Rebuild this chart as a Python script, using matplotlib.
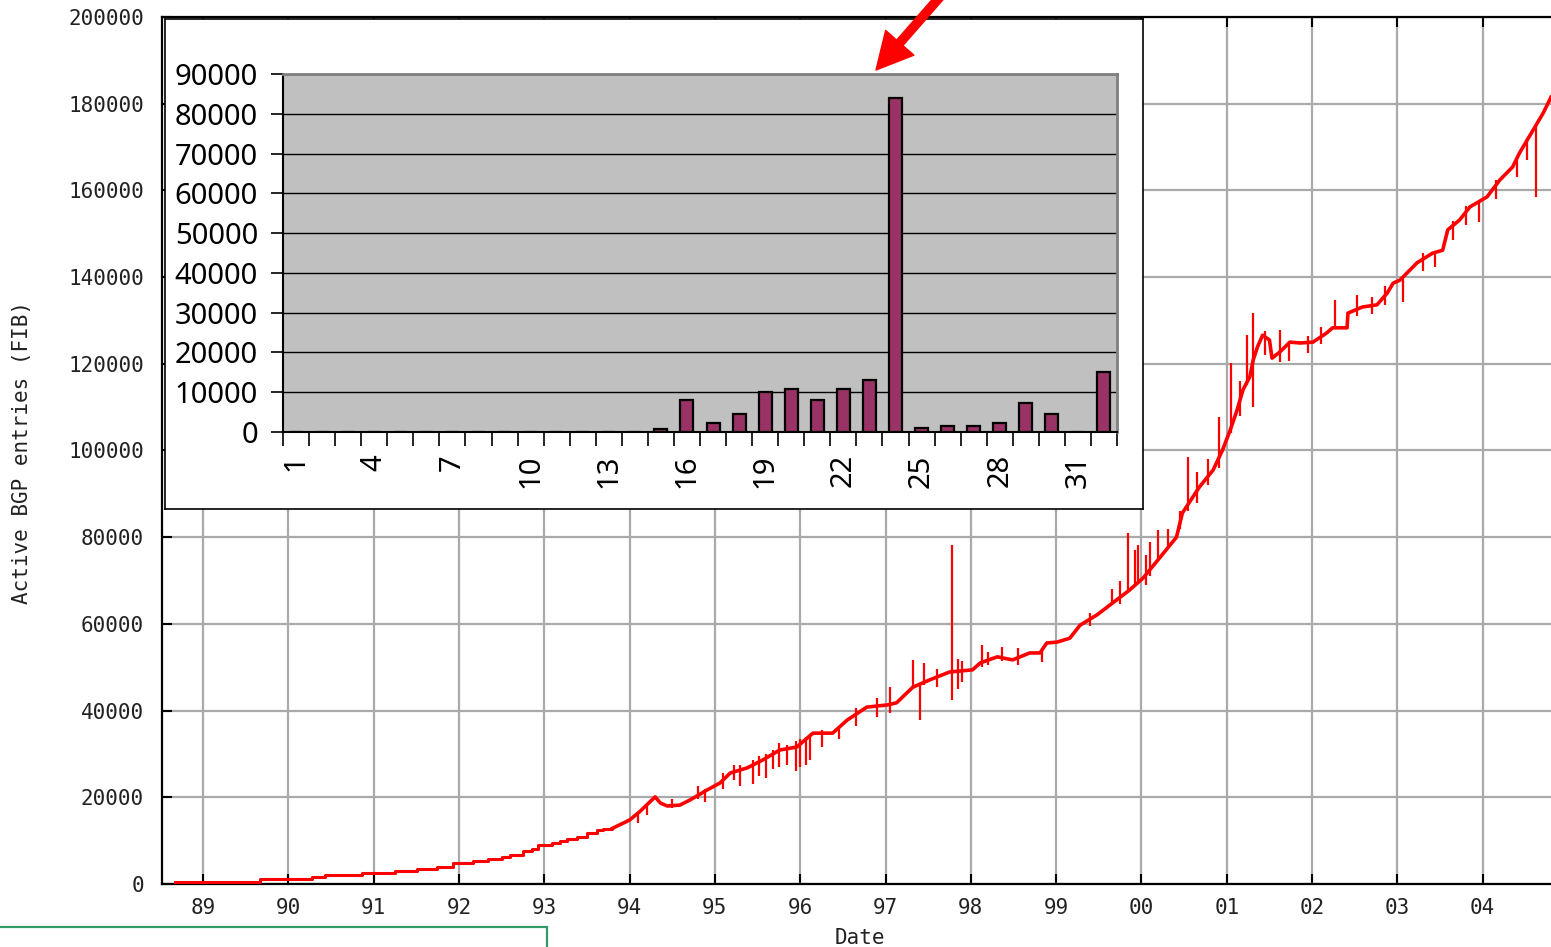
import numpy as np
import matplotlib
matplotlib.use('Agg')
import matplotlib.pyplot as plt
from matplotlib.patches import Rectangle


# ---------------------------------------------------------------------------
# Data
# ---------------------------------------------------------------------------

# Early part of the BGP table: step changes (start date, entries)
step_years = [1988.67, 1989.67, 1990.28, 1990.43, 1990.86, 1991.25, 1991.51,
              1991.74, 1991.93, 1992.16, 1992.34, 1992.50, 1992.60, 1992.75,
              1992.86, 1992.93, 1993.09, 1993.18, 1993.27, 1993.38, 1993.50,
              1993.62, 1993.69, 1993.80]
step_vals  = [500, 1150, 1500, 2000, 2450, 2900, 3400, 4000, 4750, 5200,
              5700, 6150, 6600, 7500, 8000, 8900, 9500, 9900, 10400, 10900,
              11700, 12500, 12800, 12850]

# Later part: sampled trace (date, entries)
bgp_years = [1993.80, 1994.00, 1994.12, 1994.30, 1994.36, 1994.44, 1994.59,
             1994.71, 1994.91, 1995.06, 1995.18, 1995.38, 1995.56, 1995.76,
             1995.96, 1996.15, 1996.38, 1996.55, 1996.78, 1997.02, 1997.13,
             1997.32, 1997.52, 1997.75, 1998.02, 1998.11, 1998.31, 1998.49,
             1998.69, 1998.81, 1998.89, 1999.01, 1999.16, 1999.28, 1999.48,
             1999.66, 1999.86, 2000.02, 2000.22, 2000.41, 2000.48, 2000.68,
             2000.84, 2000.95, 2001.04, 2001.12, 2001.19, 2001.27, 2001.31,
             2001.36, 2001.42, 2001.50, 2001.53, 2001.62, 2001.74, 2001.86,
             2002.01, 2002.17, 2002.24, 2002.41, 2002.42, 2002.59, 2002.76,
             2002.88, 2002.95, 2003.03, 2003.23, 2003.41, 2003.53, 2003.59,
             2003.73, 2003.85, 2004.05, 2004.20, 2004.35, 2004.43, 2004.59,
             2004.71, 2004.80]
bgp_vals  = [12850, 14750, 16700, 20100, 18700, 18000, 18200, 19400, 21700,
             23300, 25600, 26800, 28600, 30900, 31600, 34800, 34800, 37800,
             40800, 41300, 41800, 45400, 47100, 48900, 49400, 51000, 52400,
             51700, 53300, 53300, 55600, 55800, 56700, 59700, 62100, 64800,
             67800, 70600, 75400, 80000, 85600, 91600, 95500, 100100, 104700,
             109300, 114000, 117000, 120900, 123900, 126600, 125500, 121300,
             122700, 125000, 124800, 125000, 127100, 128300, 128300, 131700,
             133100, 133600, 136300, 138600, 139300, 143300, 145500, 146200,
             150900, 153200, 156200, 158500, 162400, 165400, 168600, 173900,
             177900, 181500]

# Short-lived spikes / noise in the trace (date, low, high)
spike_years = [1994.10, 1994.20, 1994.50, 1994.80, 1994.88, 1995.10, 1995.22,
               1995.30, 1995.45, 1995.52, 1995.60, 1995.68, 1995.75, 1995.85,
               1995.95, 1996.00, 1996.07, 1996.12, 1996.25, 1996.45, 1996.65,
               1996.90, 1997.05, 1997.32, 1997.40, 1997.45, 1997.60, 1997.78,
               1997.85, 1997.90, 1998.13, 1998.20, 1998.36, 1998.55, 1998.83,
               1999.40, 1999.65, 1999.75, 1999.84, 1999.92, 1999.96, 2000.05,
               2000.10, 2000.19, 2000.31, 2000.45, 2000.55, 2000.65, 2000.78,
               2000.91, 2001.05, 2001.15, 2001.24, 2001.31, 2001.45, 2001.62,
               2001.73, 2001.95, 2002.10, 2002.27, 2002.53, 2002.70, 2002.85,
               2003.07, 2003.30, 2003.44, 2003.65, 2003.80, 2003.96, 2004.15,
               2004.40, 2004.52, 2004.63]
spike_lo    = [14000, 16000, 17500, 19500, 19000, 22000, 24000, 22500, 23000,
               25000, 24500, 26500, 27000, 27500, 26000, 27000, 27500, 28500,
               31500, 33500, 36500, 38500, 39500, 45000, 37800, 46000, 45500,
               42400, 45000, 46500, 50000, 50500, 51500, 50500, 51200, 59500,
               64500, 64500, 67500, 69000, 69500, 69000, 71000, 74500, 78000,
               82000, 86000, 88000, 92000, 96000, 104000, 108000, 115000,
               110000, 122000, 120400, 120600, 122500, 124500, 128000, 131000,
               131500, 133500, 134300, 141500, 142300, 148500, 152000, 152700,
               158000, 163000, 167000, 158500]
spike_hi    = [16500, 18500, 19500, 22500, 22000, 25500, 27500, 27500, 28500,
               29500, 30000, 31000, 32500, 32000, 33000, 33500, 34000, 34500,
               35500, 36500, 40500, 43000, 45500, 51700, 46000, 51000, 49500,
               78200, 52000, 51500, 55100, 53500, 54600, 54500, 54000, 62500,
               68000, 70000, 81000, 77000, 78200, 76000, 79000, 81600, 82000,
               86000, 98500, 95000, 98000, 107700, 120200, 116000, 126600,
               131700, 127500, 127800, 125000, 126500, 128500, 134700, 135900,
               135500, 138000, 139500, 145500, 146000, 153000, 156500, 157000,
               162500, 168000, 172000, 175000]

year_ticks  = list(range(1989, 2005))
year_labels = ['89', '90', '91', '92', '93', '94', '95', '96', '97', '98',
               '99', '00', '01', '02', '03', '04']

# Inset: daily counts (day of month, prefixes)
days       = list(range(1, 33))
day_counts = [0, 0, 0, 0, 0, 0, 0, 0, 0, 0, 0, 0, 0, 0, 800, 8000, 2300,
              4600, 10100, 10900, 8000, 10900, 13000, 84000, 900, 1600, 1600,
              2300, 7300, 4600, 0, 15200]
day_labels = [1, 4, 7, 10, 13, 16, 19, 22, 25, 28, 31]


# ---------------------------------------------------------------------------
# Figure and main axes
# ---------------------------------------------------------------------------

W, H = 1551, 947
fig = plt.figure(figsize=(W / 100, H / 100), dpi=100)

ax = fig.add_axes([162 / W, (H - 884) / H, (W - 162) / W, (884 - 17) / H])
ax.set_xlim(1988.52, 2004.80)
ax.set_ylim(0, 200000)

ax.step(step_years, step_vals, where='post', color='red', lw=2.2, zorder=3)
ax.plot(bgp_years, bgp_vals, color='red', lw=2.6, zorder=3)
ax.vlines(spike_years, spike_lo, spike_hi, color='red', lw=1.6, zorder=3)

mono = 'DejaVu Sans Mono'
tick_font = dict(fontfamily=mono, fontsize=15, color='#222222')
ax.set_xticks(year_ticks)
ax.set_xticklabels(year_labels, **tick_font)
ax.set_yticks(range(0, 200001, 20000))
ax.set_yticklabels([str(v) for v in range(0, 200001, 20000)], **tick_font)
ax.tick_params(direction='in', length=7, width=1.5, top=True, bottom=True,
               left=True, right=False, color='black')
ax.tick_params(axis='y', pad=13)
ax.tick_params(axis='x', pad=10)

ax.grid(True, color='#aaaaaa', lw=1.6)
ax.set_axisbelow(True)
for side in ['left', 'bottom', 'top']:
    ax.spines[side].set_linewidth(1.6)
ax.spines['right'].set_visible(False)

fig.text(22 / W, 1 - 452 / H, 'Active BGP entries (FIB)', rotation=90,
         ha='center', va='center', **tick_font)
fig.text(860 / W, 1 - 938 / H, 'Date', ha='center', va='center', **tick_font)


# ---------------------------------------------------------------------------
# Inset bar chart (white box + grey plot area)
# ---------------------------------------------------------------------------

box = fig.add_axes([165 / W, (H - 509) / H, (1143 - 165) / W, (509 - 19) / H])
box.set_facecolor('white')
box.set_xticks([])
box.set_yticks([])
for s in box.spines.values():
    s.set_linewidth(1.2)
    s.set_color('black')

ins = fig.add_axes([283 / W, (H - 432) / H, (1117 - 283) / W, (432 - 74) / H])
ins.set_facecolor('#c0c0c0')
ins.bar(days, day_counts, width=0.5, color='#993366', edgecolor='black',
        lw=1.6, zorder=3)
ins.set_xlim(0.5, 32.5)
ins.set_ylim(0, 90000)
ins.set_yticks(range(0, 90001, 10000))
ins.set_yticklabels([str(v) for v in range(0, 90001, 10000)],
                    fontfamily='Noto Sans', fontsize=21)
ins.set_xticks(day_labels)
ins.set_xticklabels([str(d) for d in day_labels], rotation=90,
                    fontfamily='Noto Sans', fontsize=21, va='top')
ins.set_xticks(np.arange(0.5, 33, 1), minor=True)
ins.tick_params(axis='x', which='major', length=0, pad=16)
ins.tick_params(axis='x', which='minor', length=10, width=1.2, direction='out')
ins.tick_params(axis='y', length=9, width=1.2, direction='out', pad=9)
ins.grid(True, axis='y', color='black', lw=1)
ins.set_axisbelow(True)
ins.spines['left'].set_linewidth(1.5)
ins.spines['bottom'].set_linewidth(1.5)
ins.spines['top'].set_color('#808080')
ins.spines['top'].set_linewidth(2)
ins.spines['right'].set_color('#808080')
ins.spines['right'].set_linewidth(2)


# ---------------------------------------------------------------------------
# Decorations: red arrow pointing at the spike, green box at bottom left
# ---------------------------------------------------------------------------

# drawn from the inset so it sits on top of everything
arrow = ins.annotate('', xy=(876, H - 70), xycoords='figure pixels',
                     xytext=(946, H + 10), textcoords='figure pixels',
                     arrowprops=dict(facecolor='red', edgecolor='red', width=6,
                                     headwidth=27, headlength=26, shrink=0),
                     annotation_clip=False)
arrow.set_zorder(20)

fig.add_artist(Rectangle((-0.01, -0.1), 547 / W + 0.01, (H - 927) / H + 0.1,
                         transform=fig.transFigure, fill=False,
                         edgecolor='#339966', lw=1.6))

fig.savefig('out.png', dpi=100)
